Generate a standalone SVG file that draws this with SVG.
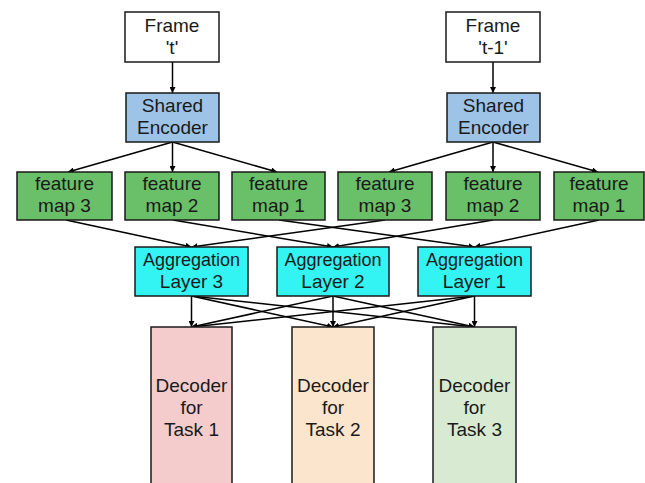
<svg xmlns="http://www.w3.org/2000/svg" width="645" height="483" viewBox="0 0 645 483">
<defs>
<marker id="ah" viewBox="0 0 10 10" refX="10" refY="5" markerWidth="6" markerHeight="6" markerUnits="userSpaceOnUse" orient="auto">
<path d="M0,0 L10,5 L0,10 z" fill="#000"/>
</marker>
<style>
.box{stroke:#1a1a1a;stroke-width:1.5}
text{font-family:"Liberation Sans",Arial,sans-serif;font-size:19px;fill:#1a1a1a;text-anchor:middle}
text.a{font-size:18px}
.c line{stroke:#000;stroke-width:1.5;marker-end:url(#ah)}
</style>
</defs>
<rect width="645" height="483" fill="#fff"/>
<g class="c" id="connectors">
<line x1="172.5" y1="62" x2="172.5" y2="93"/>
<line x1="493" y1="62" x2="493" y2="93"/>
<line x1="172.5" y1="142" x2="68" y2="172"/>
<line x1="172.5" y1="142" x2="172.5" y2="172"/>
<line x1="172.5" y1="142" x2="277" y2="172"/>
<line x1="493" y1="142" x2="389" y2="172"/>
<line x1="493" y1="142" x2="493" y2="172"/>
<line x1="493" y1="142" x2="598" y2="172"/>
<line x1="66" y1="220" x2="191.5" y2="247"/>
<line x1="385" y1="220" x2="191.5" y2="247"/>
<line x1="173" y1="220" x2="333" y2="247"/>
<line x1="493" y1="220" x2="333" y2="247"/>
<line x1="279" y1="220" x2="474.5" y2="247"/>
<line x1="599" y1="220" x2="474.5" y2="247"/>
<line x1="191.5" y1="296" x2="191.5" y2="327"/>
<line x1="191.5" y1="296" x2="333" y2="327"/>
<line x1="191.5" y1="296" x2="474.5" y2="327"/>
<line x1="333" y1="296" x2="191.5" y2="327"/>
<line x1="333" y1="296" x2="333" y2="327"/>
<line x1="333" y1="296" x2="474.5" y2="327"/>
<line x1="474.5" y1="296" x2="191.5" y2="327"/>
<line x1="474.5" y1="296" x2="333" y2="327"/>
<line x1="474.5" y1="296" x2="474.5" y2="327"/>
</g>
<g id="frame-t"><rect class="box" x="125" y="12" width="94" height="50" fill="#fff"/><text x="172" y="32">Frame</text><text x="172" y="54">'t'</text></g>
<g id="frame-t1"><rect class="box" x="446" y="12" width="94" height="50" fill="#fff"/><text x="493" y="32">Frame</text><text x="493" y="54">'t-1'</text></g>
<g id="enc-t"><rect class="box" x="126" y="93" width="93" height="49" fill="#9dc3e6"/><text x="172.5" y="112">Shared</text><text x="172.5" y="134">Encoder</text></g>
<g id="enc-t1"><rect class="box" x="447" y="93" width="93" height="49" fill="#9dc3e6"/><text x="493.5" y="112">Shared</text><text x="493.5" y="134">Encoder</text></g>
<g id="fm3-t"><rect class="box" x="17" y="172" width="95" height="48" fill="#6abf69"/><text x="64.5" y="190">feature</text><text x="64.5" y="212">map 3</text></g>
<g id="fm2-t"><rect class="box" x="125" y="172" width="94" height="48" fill="#6abf69"/><text x="172" y="190">feature</text><text x="172" y="212">map 2</text></g>
<g id="fm1-t"><rect class="box" x="232" y="172" width="93" height="48" fill="#6abf69"/><text x="278.5" y="190">feature</text><text x="278.5" y="212">map 1</text></g>
<g id="fm3-t1"><rect class="box" x="338" y="172" width="94" height="48" fill="#6abf69"/><text x="385" y="190">feature</text><text x="385" y="212">map 3</text></g>
<g id="fm2-t1"><rect class="box" x="446" y="172" width="94" height="48" fill="#6abf69"/><text x="493" y="190">feature</text><text x="493" y="212">map 2</text></g>
<g id="fm1-t1"><rect class="box" x="554" y="172" width="90" height="48" fill="#6abf69"/><text x="599" y="190">feature</text><text x="599" y="212">map 1</text></g>
<g id="agg3"><rect class="box" x="135" y="247" width="113" height="49" fill="#33f3f3"/><text class="a" x="191.5" y="266">Aggregation</text><text x="191.5" y="288">Layer 3</text></g>
<g id="agg2"><rect class="box" x="277" y="247" width="112" height="49" fill="#33f3f3"/><text class="a" x="333" y="266">Aggregation</text><text x="333" y="288">Layer 2</text></g>
<g id="agg1"><rect class="box" x="418" y="247" width="113" height="49" fill="#33f3f3"/><text class="a" x="474.5" y="266">Aggregation</text><text x="474.5" y="288">Layer 1</text></g>
<g id="dec1"><rect class="box" x="151" y="327" width="81" height="165" fill="#f4cccc"/><text x="191.5" y="392">Decoder</text><text x="191.5" y="414">for</text><text x="191.5" y="436">Task 1</text></g>
<g id="dec2"><rect class="box" x="292" y="327" width="82" height="165" fill="#fce5cd"/><text x="333" y="392">Decoder</text><text x="333" y="414">for</text><text x="333" y="436">Task 2</text></g>
<g id="dec3"><rect class="box" x="433" y="327" width="83" height="165" fill="#d9ead3"/><text x="474.5" y="392">Decoder</text><text x="474.5" y="414">for</text><text x="474.5" y="436">Task 3</text></g>
</svg>
